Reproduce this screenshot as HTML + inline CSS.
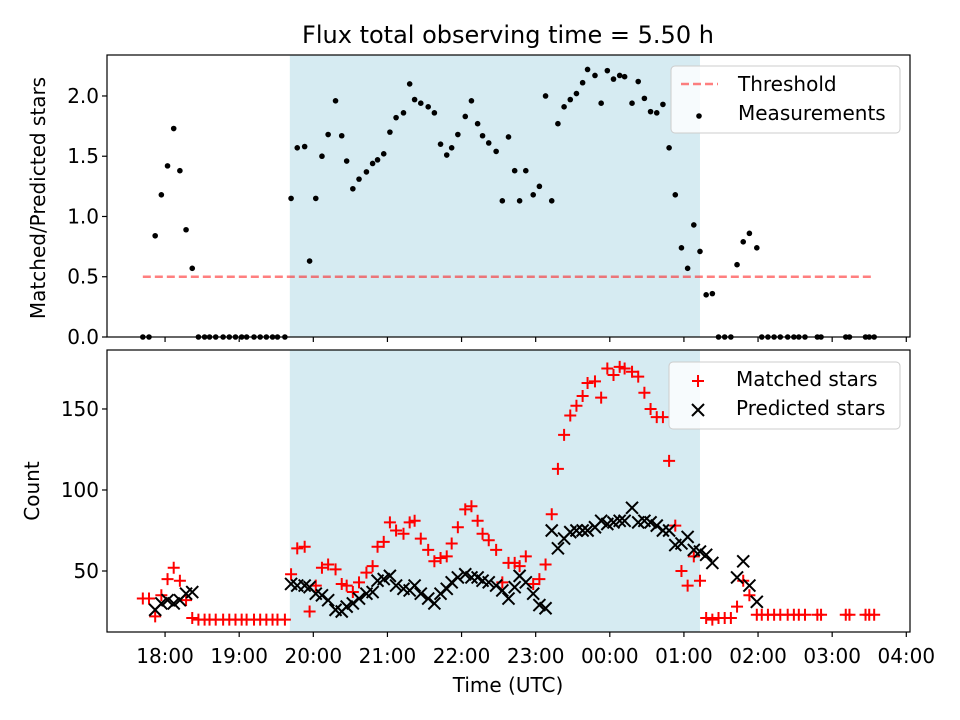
<!DOCTYPE html>
<html><head><meta charset="utf-8"><style>
body{margin:0;background:#fff;}
svg{display:block;font-family:"DejaVu Sans","Liberation Sans",sans-serif;}
</style></head><body>
<svg id="c" width="960" height="720" viewBox="0 0 960 720" xmlns="http://www.w3.org/2000/svg"></svg>
<script>
// minutes since 18:00
const times=[-18,-13,-8,-3,2,7,12,17,22,27,32,36,41,47,52,57,62,66,72,77,82,87,91,97,102,107,113,117,122,127,132,138,143,147,152,157,163,168,172,177,182,187,193,198,202,207,213,218,223,228,232,237,243,248,253,257,262,268,273,278,283,287,292,298,303,308,313,318,323,328,333,338,342,348,353,358,363,368,372,378,383,388,393,398,403,408,413,418,423,428,433,438,443,448,453,458,463,468,473,479,483,488,493,498,504,509,513,518,528,531,551,554,567,570,574];
const ratios=[0,0,0.84,1.18,1.42,1.73,1.38,0.89,0.57,0,0,0,0,0,0,0,0,0,0,0,0,0,0,0,1.15,1.57,1.58,0.63,1.15,1.50,1.68,1.96,1.67,1.46,1.23,1.31,1.37,1.44,1.47,1.52,1.70,1.82,1.86,2.10,1.97,1.94,1.91,1.86,1.60,1.51,1.57,1.68,1.83,1.96,1.77,1.67,1.61,1.54,1.13,1.66,1.38,1.13,1.38,1.18,1.25,2.00,1.13,1.77,1.91,1.97,2.02,2.11,2.22,2.17,1.94,2.21,2.14,2.17,2.16,1.94,2.12,1.98,1.87,1.86,1.93,1.57,1.18,0.74,0.57,0.93,0.71,0.35,0.36,0,0,0,0.60,0.79,0.86,0.74,0,0,0,0,0,0,0,0,0,0,0,0,0,0,0];
const matched=[33,33,22,35,45,52,44,32,21,20,20,20,20,20,20,20,20,20,20,20,20,20,20,20,48,64,65,25,41,52,54,51,42,41,37,43,49,53,65,68,80,75,73,80,81,70,63,56,58,59,67,77,88,90,81,73,69,63,43,55,55,53,59,42,45,54,85,113,134,146,152,158,166,167,157,175,171,176,175,173,170,160,150,145,145,118,78,50,41,59,44,21,20,21,21,21,28,44,35,23,23,23,23,23,23,23,23,23,23,23,23,23,23,23,23];
const predicted=[null,null,26,30,32,30,32,36,37,null,null,null,null,null,null,null,null,null,null,null,null,null,null,null,42,41,41,40,36,35,32,26,25,28,30,33,36,37,44,45,47,41,39,38,41,36,33,30,36,39,43,46,48,46,46,44,43,41,38,33,40,47,43,36,29,27,75,64,70,74,75,75,75,77,81,79,80,81,81,89,80,81,80,78,75,75,66,67,71,63,62,60,55,null,null,null,46,56,41,31,null,null,null,null,null,null,null,null,null,null,null,null,null,null,null];
const xTickVals=[0,60,120,180,240,300,360,420,480,540,600];
const xTickLabels=["18:00","19:00","20:00","21:00","22:00","23:00","00:00","01:00","02:00","03:00","04:00"];
const topTicks=[0,0.5,1.0,1.5,2.0];
const topTickLabels=["0.0","0.5","1.0","1.5","2.0"];
const botTicks=[50,100,150];
const threshold=0.5;
const thrStart=-18, thrEnd=574;
const shadeStart=101, shadeEnd=433;

const NS="http://www.w3.org/2000/svg";
const svg=document.getElementById('c');
function mk(tag,attrs,parent){const e=document.createElementNS(NS,tag);for(const k in attrs)e.setAttribute(k,attrs[k]);(parent||svg).appendChild(e);return e;}
const L=107,R=910;
const xs=m=>L+(m-(-47))*(R-L)/(603-(-47));
const T={top:55,bot:337,min:0,max:2.34};
const B={top:350,bot:632,min:12.35,max:186.4};
const ys=(p,v)=>p.bot-(v-p.min)*(p.bot-p.top)/(p.max-p.min);
const FS=20;

function panel(p,name){
  const g=mk('g',{});
  
  
  const s=mk('rect',{x:xs(shadeStart),y:p.top,width:xs(shadeEnd)-xs(shadeStart),height:p.bot-p.top,fill:'#add8e6','fill-opacity':0.5},g);
  
  
  return g;
}
function frame(p,g){
  const f=mk('rect',{x:L,y:p.top,width:R-L,height:p.bot-p.top,fill:'none',stroke:'#000','stroke-width':1.2},g);
  
  
  xTickVals.forEach((m,i)=>{
    const t=mk('line',{x1:xs(m),x2:xs(m),y1:p.bot,y2:p.bot+5,stroke:'#000','stroke-width':1.2},g);
    
    
  });
}
const gT=panel(T,'ratio-panel');
const thr=mk('line',{x1:xs(thrStart),x2:xs(thrEnd),y1:ys(T,threshold),y2:ys(T,threshold),stroke:'#ff0000','stroke-opacity':0.5,'stroke-width':2.5,'stroke-dasharray':'8,4'},gT);


times.forEach((m,i)=>{
  const c=mk('circle',{cx:xs(m),cy:ys(T,ratios[i]),r:2.8,fill:'#000'},gT);
  
  
});
frame(T,gT);
topTicks.forEach((v,i)=>{
  mk('line',{x1:L-5,x2:L,y1:ys(T,v),y2:ys(T,v),stroke:'#000','stroke-width':1.2},gT);
  const t=mk('text',{x:L-8,y:ys(T,v)+7,'text-anchor':'end','font-size':FS},gT);
  t.textContent=topTickLabels[i];
  
  
});
const gB=panel(B,'count-panel');
function plus(x,y,g){mk('path',{d:`M${x-6},${y}H${x+6}M${x},${y-6}V${y+6}`,stroke:'#ff0000','stroke-width':2},g);}
function cross(x,y,g){mk('path',{d:`M${x-6},${y-6}L${x+6},${y+6}M${x-6},${y+6}L${x+6},${y-6}`,stroke:'#000','stroke-width':2},g);}
times.forEach((m,i)=>{
  const g=mk('g',{},gB);
  
  
  plus(xs(m),ys(B,matched[i]),g);
});
times.forEach((m,i)=>{
  if(predicted[i]===null)return;
  const g=mk('g',{},gB);
  
  
  cross(xs(m),ys(B,predicted[i]),g);
});
frame(B,gB);
botTicks.forEach(v=>{
  mk('line',{x1:L-5,x2:L,y1:ys(B,v),y2:ys(B,v),stroke:'#000','stroke-width':1.2},gB);
  const t=mk('text',{x:L-8,y:ys(B,v)+7,'text-anchor':'end','font-size':FS},gB);
  t.textContent=String(v);
  
  
});
xTickVals.forEach((m,i)=>{
  const t=mk('text',{x:xs(m),y:663,'text-anchor':'middle','font-size':FS});
  t.textContent=xTickLabels[i];
  
  
});
</script>
<svg style="position:absolute;left:0;top:0" width="960" height="720" xmlns="http://www.w3.org/2000/svg">
<text x="508" y="43" text-anchor="middle" font-size="24" font-family="DejaVu Sans, sans-serif">Flux total observing time = 5.50 h</text>
<text transform="translate(45,198) rotate(-90)" text-anchor="middle" font-size="20" font-family="DejaVu Sans, sans-serif">Matched/Predicted stars</text>
<text transform="translate(39,491) rotate(-90)" text-anchor="middle" font-size="20" font-family="DejaVu Sans, sans-serif">Count</text>
<text x="508" y="692" text-anchor="middle" font-size="20" font-family="DejaVu Sans, sans-serif">Time (UTC)</text>
<g>
<rect x="671" y="66" width="229" height="67" rx="4" fill="#fff" fill-opacity="0.8" stroke="#ccc"/>
<line x1="681" x2="718" y1="84" y2="84" stroke="#ff0000" stroke-opacity="0.5" stroke-width="2.5" stroke-dasharray="8,4"/>
<text x="738" y="91" font-size="20" font-family="DejaVu Sans, sans-serif">Threshold</text>
<circle cx="699" cy="116" r="2.8" fill="#000"/>
<text x="738" y="120" font-size="20" font-family="DejaVu Sans, sans-serif">Measurements</text>
</g>
<g>
<rect x="669" y="362" width="231" height="67" rx="4" fill="#fff" fill-opacity="0.8" stroke="#ccc"/>
<path d="M692,381H704M698,375V387" stroke="#ff0000" stroke-width="2"/>
<text x="736" y="386" font-size="20" font-family="DejaVu Sans, sans-serif">Matched stars</text>
<path d="M692,404L704,416M692,416L704,404" stroke="#000" stroke-width="2"/>
<text x="736" y="415" font-size="20" font-family="DejaVu Sans, sans-serif">Predicted stars</text>
</g>
</svg>
</body></html>
